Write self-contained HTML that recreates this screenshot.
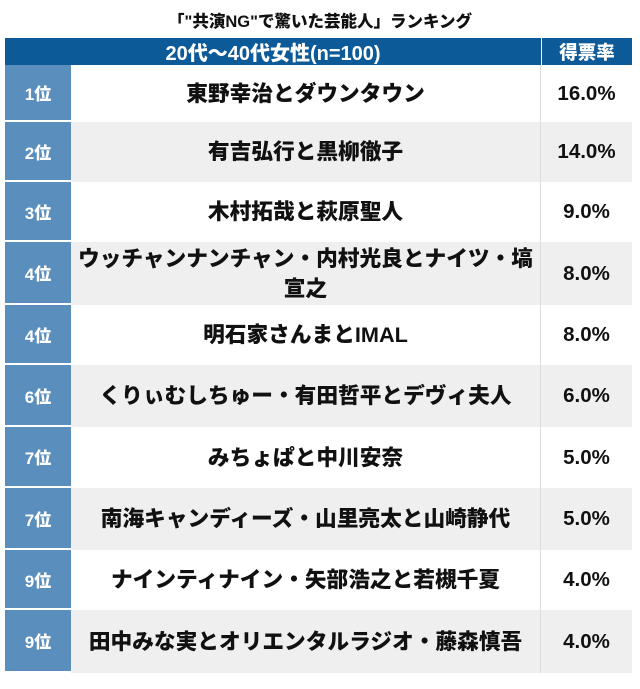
<!DOCTYPE html>
<html><head><meta charset="utf-8"><style>
body{margin:0;width:640px;height:689px;background:#fff;font-family:"Liberation Sans","Noto Sans CJK JP",sans-serif;font-weight:900;position:relative;overflow:hidden}
.t{position:absolute;top:8px;left:0;width:640px;text-align:center;font-size:16.5px;color:#111}
.r{position:absolute;left:5px;width:627px;display:flex}
.h{top:38px;height:27px;background:#0d5a98;color:#fff;font-size:20px}
.h div{display:flex;align-items:center;justify-content:center}
.c1{width:536px;border-right:1px solid #fff}
.c2{flex:1;font-size:18.5px}
.rk{width:66px;background:#5a8fbd;color:#fff;font-size:17px;display:flex;align-items:center;justify-content:center;border-bottom:2px solid #fff;box-sizing:border-box}
.nm{width:470px;display:flex;align-items:center;justify-content:center;text-align:center;font-size:21.7px;color:#111;line-height:30px;border-right:1px solid #ddd;box-sizing:border-box;white-space:nowrap}
.pc{flex:1;display:flex;align-items:center;justify-content:center;font-size:20.5px;color:#111}
.g{background:#efefef}
</style></head><body>
<div class="t">「"共演NG"で驚いた芸能人」ランキング</div>
<div class="r h"><div class="c1">20代〜40代女性(n=100)</div><div class="c2">得票率</div></div>
<div class="r" style="top:65px;height:57px"><div class="rk">1位</div><div class="nm">東野幸治とダウンタウン</div><div class="pc">16.0%</div></div>
<div class="r g" style="top:122px;height:60px"><div class="rk">2位</div><div class="nm">有吉弘行と黒柳徹子</div><div class="pc">14.0%</div></div>
<div class="r" style="top:182px;height:60px"><div class="rk">3位</div><div class="nm">木村拓哉と萩原聖人</div><div class="pc">9.0%</div></div>
<div class="r g" style="top:242px;height:63px"><div class="rk">4位</div><div class="nm">ウッチャンナンチャン・内村光良とナイツ・塙<br>宣之</div><div class="pc">8.0%</div></div>
<div class="r" style="top:305px;height:60px"><div class="rk">4位</div><div class="nm">明石家さんまとIMAL</div><div class="pc">8.0%</div></div>
<div class="r g" style="top:365px;height:62px"><div class="rk">6位</div><div class="nm">くりぃむしちゅー・有田哲平とデヴィ夫人</div><div class="pc">6.0%</div></div>
<div class="r" style="top:427px;height:61px"><div class="rk">7位</div><div class="nm">みちょぱと中川安奈</div><div class="pc">5.0%</div></div>
<div class="r g" style="top:488px;height:62px"><div class="rk">7位</div><div class="nm">南海キャンディーズ・山里亮太と山崎静代</div><div class="pc">5.0%</div></div>
<div class="r" style="top:550px;height:60px"><div class="rk">9位</div><div class="nm">ナインティナイン・矢部浩之と若槻千夏</div><div class="pc">4.0%</div></div>
<div class="r g" style="top:610px;height:63px"><div class="rk">9位</div><div class="nm">田中みな実とオリエンタルラジオ・藤森慎吾</div><div class="pc">4.0%</div></div>
</body></html>
